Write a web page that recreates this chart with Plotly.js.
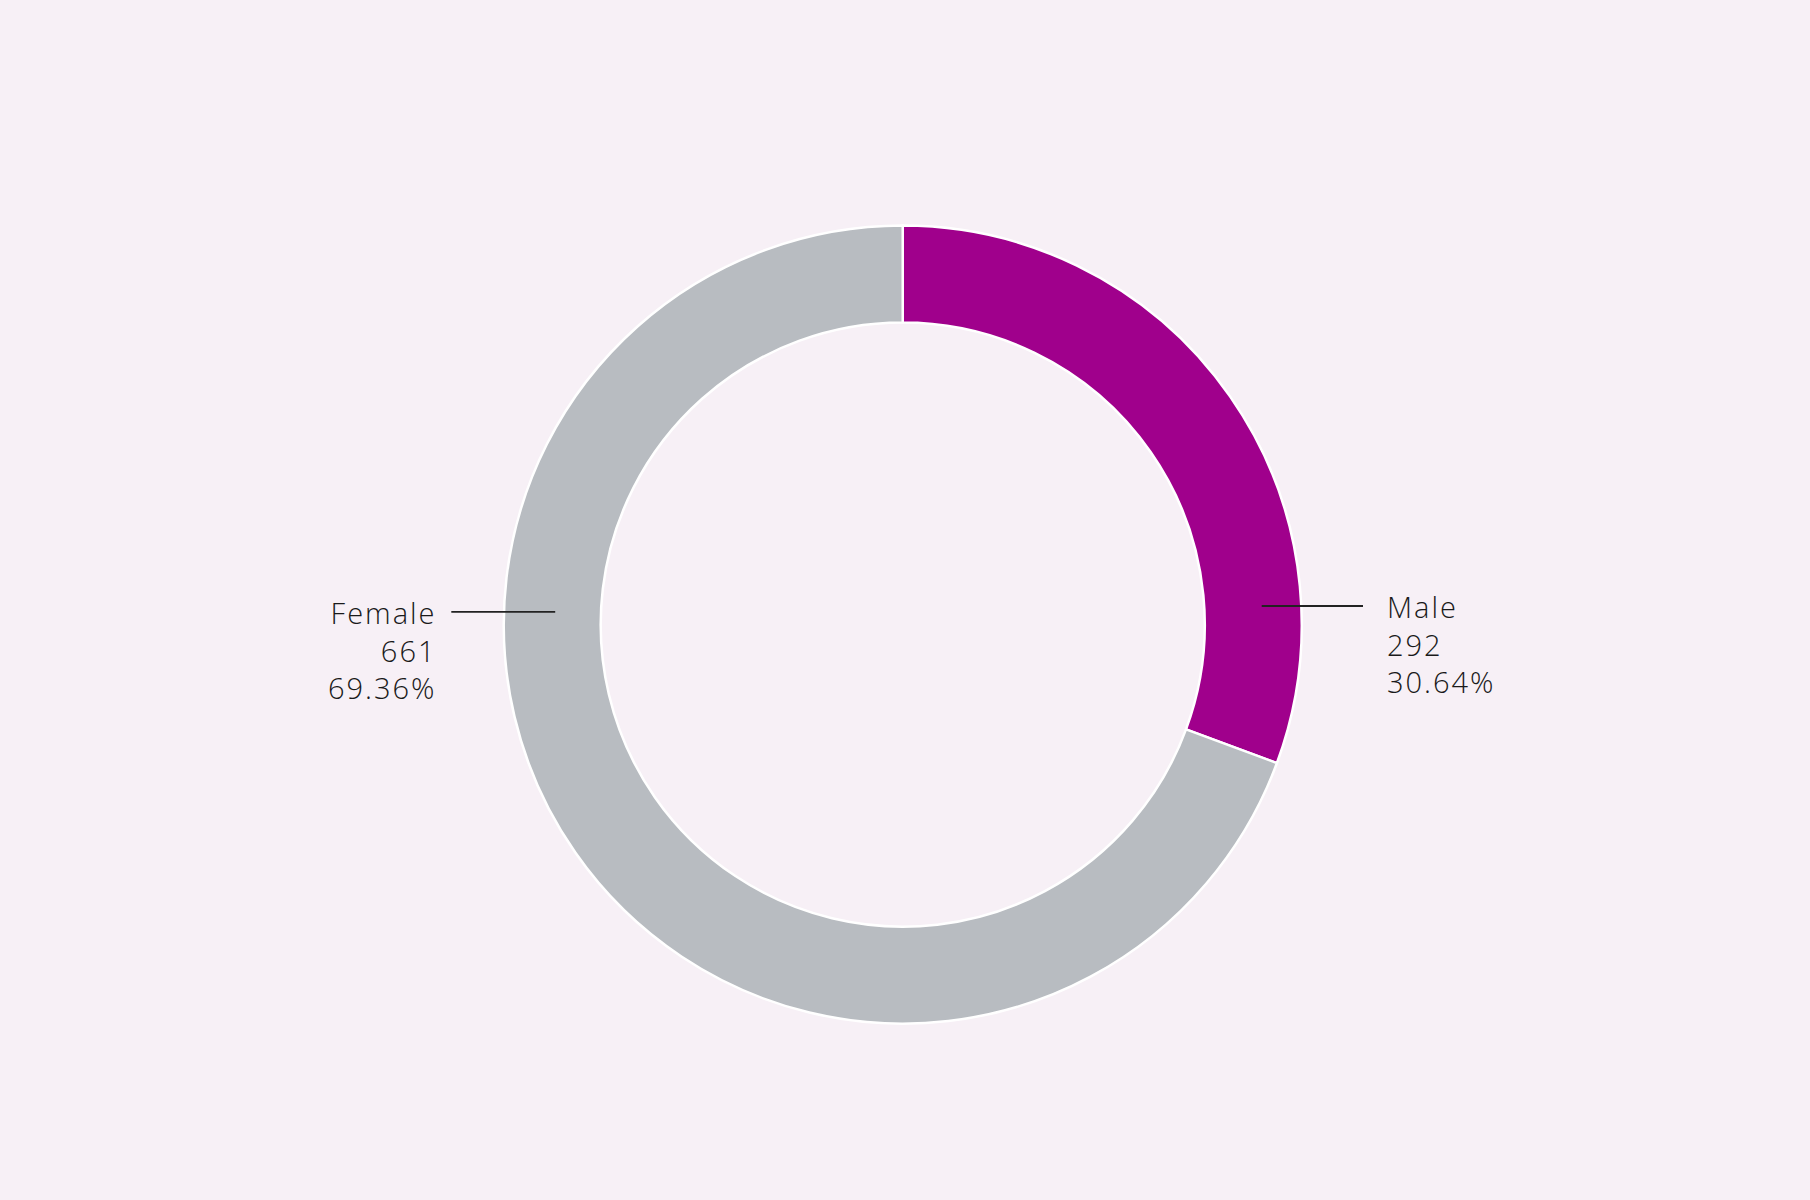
<!DOCTYPE html>
<html>
<head>
<meta charset="utf-8">
<script src="https://cdn.plot.ly/plotly-3.0.1.min.js"></script>
<style>html,body{margin:0;padding:0;background:#f7f0f6;}#chart{width:1810px;height:1200px;}
#chart .annotation-text{letter-spacing:2px;}</style>
</head>
<body>
<div id="chart"></div>
<script>
const labels = ["Male", "Female"];
const values = [292, 661];
const colors = ["#a0008c", "#b8bcc1"];

const total = values.reduce((a, b) => a + b, 0);
const pct = values.map(v => (v / total * 100).toFixed(2) + "%");
const labelText = labels.map((l, i) => l + "<br>" + values[i] + "<br>" + pct[i]);

const data = [{
  type: "pie",
  labels: labels,
  values: values,
  hole: 0.757,
  sort: false,
  direction: "clockwise",
  rotation: 0,
  textinfo: "none",
  hoverinfo: "label+value+percent",
  marker: {colors: colors, line: {color: "#ffffff", width: 2.5}},
  domain: {x: [0, 0.9975], y: [0.147, 0.812]},
  showlegend: false
}];

const fontFam = "'Open Sans', Lato, sans-serif";
const layout = {
  width: 1810, height: 1200,
  paper_bgcolor: "#f7f0f6",
  plot_bgcolor: "#f7f0f6",
  margin: {l: 0, r: 0, t: 0, b: 0},
  showlegend: false,
  annotations: [
    {xref: "paper", yref: "paper", x: 1385/1810, y: 1 - 644/1200, xanchor: "left", yanchor: "middle",
     align: "left", showarrow: false, text: labelText[0],
     font: {family: fontFam, size: 29, color: "#1a1a1a", weight: 300}},
    {xref: "paper", yref: "paper", x: 439/1810, y: 1 - 650/1200, xanchor: "right", yanchor: "middle",
     align: "right", showarrow: false, text: labelText[1],
     font: {family: fontFam, size: 29, color: "#1a1a1a", weight: 300}}
  ],
  shapes: [
    {type: "line", xref: "paper", yref: "paper", x0: 1261.7/1810, x1: 1363/1810, y0: 1 - 606/1200, y1: 1 - 606/1200,
     line: {color: "#222222", width: 1.8}},
    {type: "line", xref: "paper", yref: "paper", x0: 451.3/1810, x1: 555.2/1810, y0: 1 - 611.8/1200, y1: 1 - 611.8/1200,
     line: {color: "#222222", width: 1.8}}
  ]
};

Plotly.newPlot("chart", data, layout, {displayModeBar: false});
</script>
</body>
</html>
